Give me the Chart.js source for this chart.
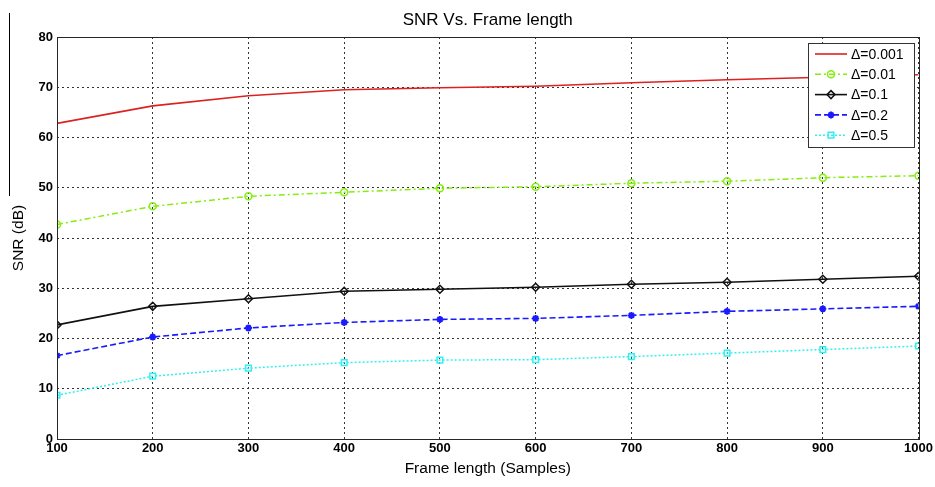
<!DOCTYPE html>
<html>
<head>
<meta charset="utf-8">
<script src="https://cdn.jsdelivr.net/npm/chart.js@4.4.0/dist/chart.umd.min.js"></script>
<style>
  html, body { margin: 0; padding: 0; background: #fff; }
  #wrap { width: 935px; height: 487px; }
</style>
</head>
<body>
<div id="wrap"><canvas id="snrChart" width="935" height="487"></canvas></div>
<script>
// Frame length values (x axis)
const frameLength = [100, 200, 300, 400, 500, 600, 700, 800, 900, 1000];

// SNR (dB), one array per delta
const snrD0001 = [62.8, 66.3, 68.3, 69.5, 69.9, 70.2, 70.9, 71.5, 72.0, 72.5];
const snrD001  = [42.7, 46.3, 48.3, 49.1, 49.9, 50.2, 50.9, 51.3, 52.0, 52.4];
const snrD01   = [22.7, 26.4, 27.9, 29.4, 29.8, 30.2, 30.8, 31.2, 31.8, 32.4];
const snrD02   = [16.6, 20.3, 22.1, 23.2, 23.8, 24.0, 24.6, 25.4, 25.9, 26.4];
const snrD05   = [8.7, 12.5, 14.1, 15.2, 15.7, 15.8, 16.4, 17.1, 17.8, 18.5];

const seriesLabels = ['\u0394=0.001', '\u0394=0.01', '\u0394=0.1', '\u0394=0.2', '\u0394=0.5'];
const yTicks = [0, 10, 20, 30, 40, 50, 60, 70, 80];

function toPoints(values) {
    return values.map((v, i) => ({ x: frameLength[i], y: v }));
}

// box around plot + legend inside the axes, MATLAB style
const matlabBox = {
    id: 'matlabBox',
    afterDatasetsDraw(chart) {
        const ctx = chart.ctx;
        const a = chart.chartArea;
        ctx.save();
        ctx.strokeStyle = '#262626';
        ctx.lineWidth = 1;
        ctx.setLineDash([]);
        ctx.strokeRect(Math.round(a.left) + 0.5, Math.round(a.top) + 0.5,
            Math.round(a.right - a.left), Math.round(a.bottom - a.top));

        // stray line on the left edge of the figure
        ctx.strokeStyle = '#000';
        ctx.beginPath();
        ctx.moveTo(9.5, 13);
        ctx.lineTo(9.5, 196);
        ctx.stroke();

        // legend
        const bx = 808, by = 43, bw = 106, bh = 104;
        ctx.fillStyle = '#fff';
        ctx.fillRect(bx, by, bw, bh);
        ctx.strokeStyle = '#333';
        ctx.strokeRect(bx + 0.5, by + 0.5, bw, bh);
        ctx.font = '14px Arial, "Liberation Sans", sans-serif';
        ctx.textBaseline = 'middle';
        chart.data.datasets.forEach((ds, i) => {
            const y = by + 11 + i * 20.3;
            ctx.strokeStyle = ds.borderColor;
            ctx.lineWidth = ds.borderWidth;
            ctx.setLineDash(ds.borderDash || []);
            ctx.beginPath();
            ctx.moveTo(bx + 7, y);
            ctx.lineTo(bx + 39, y);
            ctx.stroke();
            ctx.setLineDash([]);
            if (ds.pointRadius > 0) {
                ctx.fillStyle = ds.pointStyle === 'star' ? ds.borderColor : 'rgba(0,0,0,0)';
                ctx.strokeStyle = ds.borderColor;
                ctx.lineWidth = ds.pointBorderWidth;
                Chart.helpers.drawPoint(ctx, {
                    pointStyle: ds.pointStyle,
                    radius: ds.pointRadius,
                    borderWidth: ds.pointBorderWidth
                }, bx + 23, y);
            }
            ctx.fillStyle = '#000';
            ctx.fillText(ds.label, bx + 43, y + 1);
        });
        ctx.restore();
    }
};

const datasets = [
    { label: seriesLabels[0], data: toPoints(snrD0001), borderColor: '#dd2121', borderWidth: 1.6,
      pointRadius: 0, borderDash: [] },
    { label: seriesLabels[1], data: toPoints(snrD001), borderColor: '#84ee10', borderWidth: 1.5,
      pointStyle: 'circle', pointRadius: 3.5, borderDash: [6, 3, 2, 3] },
    { label: seriesLabels[2], data: toPoints(snrD01), borderColor: '#111', borderWidth: 1.6,
      pointStyle: 'rectRot', pointRadius: 4, borderDash: [] },
    { label: seriesLabels[3], data: toPoints(snrD02), borderColor: '#1a1aff', borderWidth: 1.6,
      pointStyle: 'star', pointRadius: 3.5, pointBorderWidth: 2, borderDash: [6, 3] },
    { label: seriesLabels[4], data: toPoints(snrD05), borderColor: '#33f0f0', borderWidth: 1.5,
      pointStyle: 'rect', pointRadius: 4, borderDash: [2, 2] }
];
datasets.forEach(ds => {
    ds.backgroundColor = 'rgba(0,0,0,0)';
    ds.pointBackgroundColor = 'rgba(0,0,0,0)';
    ds.pointBorderColor = ds.borderColor;
    ds.pointBorderWidth = ds.pointBorderWidth || 1.5;
    ds.tension = 0;
    ds.fill = false;
});

Chart.defaults.font.family = 'Arial, "Liberation Sans", sans-serif';
Chart.defaults.color = '#000';

new Chart(document.getElementById('snrChart'), {
    type: 'line',
    data: { datasets: datasets },
    options: {
        responsive: false,
        animation: false,
        layout: { padding: { left: 0, right: 11, top: 0, bottom: 0 } },
        scales: {
            x: {
                type: 'linear',
                min: 100,
                max: 1000,
                afterFit: s => { s.height = 48; },
                ticks: {
                    stepSize: 100,
                    padding: 2,
                    font: { size: 13, weight: 'bold' },
                    maxRotation: 0,
                    callback: v => String(v)
                },
                grid: { color: '#333', tickLength: 0, drawTicks: false },
                border: { display: false, dash: [2, 3] },
                title: {
                    display: true,
                    text: 'Frame length (Samples)',
                    font: { size: 15.5 },
                    padding: { top: 4, bottom: 9 }
                }
            },
            y: {
                min: 0,
                max: 80,
                afterFit: s => { s.width = 57; },
                afterBuildTicks: s => { s.ticks = yTicks.map(v => ({ value: v })); },
                ticks: {
                    padding: 4,
                    font: { size: 13, weight: 'bold' }
                },
                grid: { color: '#333', drawTicks: false },
                border: { display: false, dash: [2, 3] },
                title: {
                    display: true,
                    text: 'SNR (dB)',
                    font: { size: 15.5 },
                    padding: { top: 9, bottom: 0 }
                }
            }
        },
        plugins: {
            legend: { display: false },
            tooltip: { enabled: false },
            title: {
                display: true,
                fullSize: false,
                text: 'SNR Vs. Frame length',
                font: { size: 17, weight: 'normal' },
                color: '#000',
                padding: { top: 10, bottom: 6.6 }
            }
        }
    },
    plugins: [matlabBox]
});
</script>
</body>
</html>
